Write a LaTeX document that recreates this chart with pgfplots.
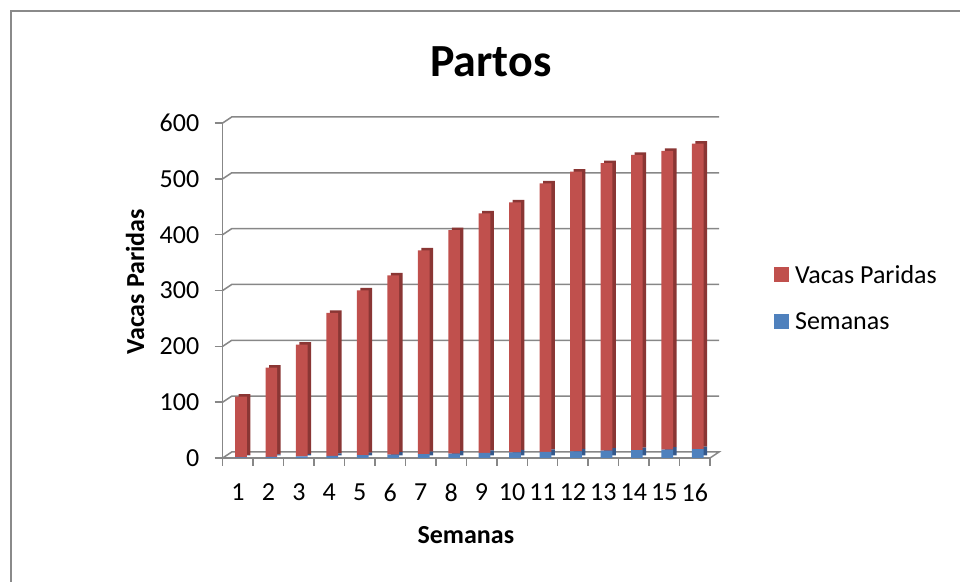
\documentclass[border=0pt]{standalone}
\usepackage{pgfplots}
\pgfplotsset{compat=1.18}
\usepackage{pgfplotstable}
\usepackage{fontspec}
\setmainfont{Carlito}
\definecolor{red1}{HTML}{C0504D}
\definecolor{red2}{HTML}{8A3634}
\definecolor{blue1}{HTML}{4F81BD}
\definecolor{blue2}{HTML}{35588A}
\definecolor{gridc}{HTML}{878787}
\definecolor{framec}{HTML}{8A8A8A}
\newcommand{\basefont}{\fontsize{26bp}{30bp}\selectfont}
\newcommand{\yl}[1]{{\basefont #1\hspace*{12bp}}}
\pgfplotstableread{
x s v
1 1 109
2 2 160
3 3 200
4 4 256
5 5 295
6 6 321
7 7 365
8 8 400
9 9 429
10 10 448
11 11 481
12 12 501
13 13 515
14 14 529
15 15 535
16 16 547
}\datatable
\pgfplotsset{common/.style={scale only axis, width=487.3bp, height=335bp,
  xmin=0.5, xmax=16.5, ymin=0, ymax=600, anchor=south west, clip=false,
  ybar stacked, bar width=11.7bp, bar shift=3bp}}
\begin{document}
\begin{tikzpicture}[font=\basefont]
\path[use as bounding box] (0,0) rectangle (960bp,582bp);
\draw[framec, line width=1.6bp] (10.8bp,0) -- (10.8bp,571bp) -- (960bp,571bp);
% back wall grid
\begin{axis}[common, at={(222.7bp,124bp)}, hide axis]
\pgfplotsinvokeforeach{100,200,...,600}{
  \draw[gridc, line width=1.5bp] (axis cs:0.5,#1) -- ++(9bp,6bp) -- ([shift={(9bp,6bp)}]axis cs:16.5,#1);
}
\draw[gridc, line width=1.5bp] (axis cs:0.5,0) -- ++(9bp,6bp) -- ([shift={(9bp,6bp)}]axis cs:16.5,0) -- (axis cs:16.5,0);
\end{axis}
% side/top faces
\begin{axis}[common, at={(226.2bp,126.5bp)}, hide axis]
\addplot[fill=blue2, draw=none] table[x=x,y=s]{\datatable};
\addplot[fill=red2, draw=none] table[x=x,y=v]{\datatable};
\end{axis}
% front faces and axes
\begin{axis}[common, at={(222.7bp,124bp)},
  axis x line*=bottom, axis y line*=left,
  axis line style={gridc, line width=1.5bp, -},
  ytick={0,100,...,600},
  yticklabels={\yl{0},\yl{100},\yl{200},\yl{300},\yl{400},\yl{500},\yl{600}},
  xtick={0.5,1.5,...,16.5}, xticklabels={},
  extra x ticks={1,...,16},
  extra x tick labels={1,2,3,4,5,6,7,8,9,10,11,12,13,14,15,16},
  extra x tick style={major tick length=0pt, xticklabel style={yshift=-22bp}},
  tick align=outside, major tick length=8bp,
  tick style={gridc, line width=1.5bp},
  every x tick label/.append style={font=\basefont},
  xlabel={Semanas}, ylabel={Vacas Paridas},
  every axis x label/.style={at={(rel axis cs:0.499,-0.23)}, anchor=center, font=\basefont\bfseries},
  every axis y label/.style={at={(rel axis cs:-0.180,0.526)}, anchor=center, rotate=90, font=\basefont\bfseries},
  legend image code/.code={\fill[#1] (0bp,-7.5bp) rectangle (15bp,7.5bp);},
  reverse legend,
  legend cell align=left,
  legend style={draw=none, fill=none, font=\basefont, at={(rel axis cs:1.125,0.588)}, anchor=north west, row sep=24bp, column sep=4bp},
]
\addplot[fill=blue1, draw=none] table[x=x,y=s]{\datatable};
\addplot[fill=red1, draw=none] table[x=x,y=v]{\datatable};
\legend{Semanas, Vacas Paridas}
\end{axis}
\node[font=\bfseries\fontsize{46bp}{50bp}\selectfont, anchor=base] at (490.8bp,505.3bp) {Partos};
\end{tikzpicture}
\end{document}
